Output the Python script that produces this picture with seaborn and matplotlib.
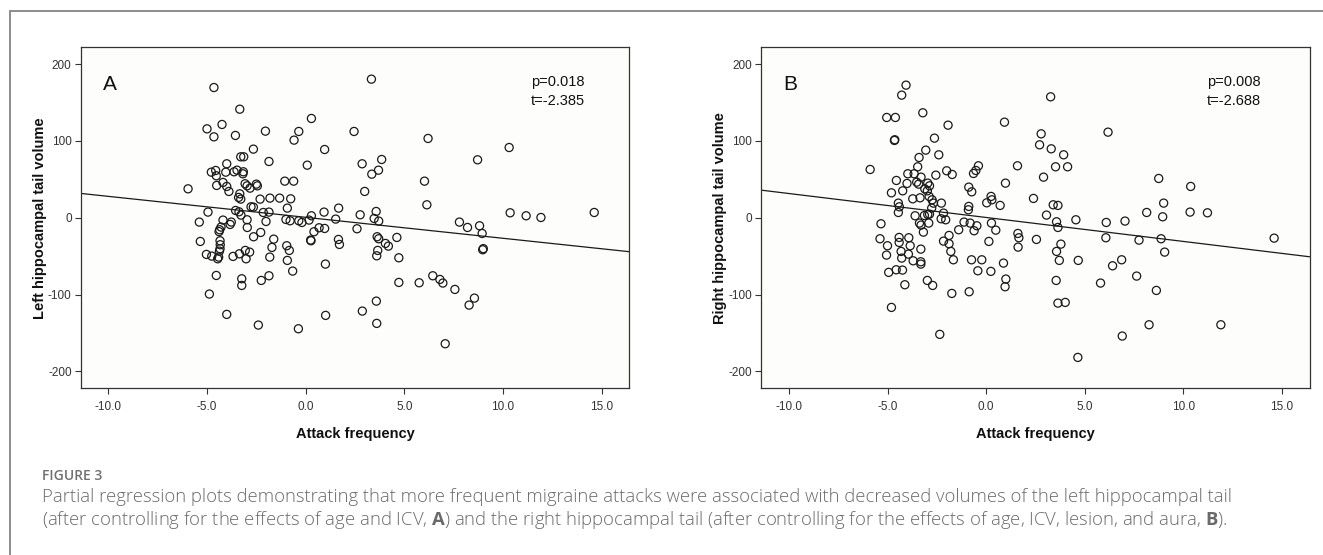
import matplotlib
matplotlib.use("Agg")
import matplotlib.pyplot as plt
import seaborn as sns
import pandas as pd
from matplotlib.lines import Line2D

# ---------------- data ----------------
left_x = [-4.65, -3.34, 0.29, -5.0, -4.24, -4.65, -3.56, -2.04, -0.35, -0.59, 0.96, -2.65, -3.29, -3.14,
          -1.86, 0.08, -4.0, -4.78, -4.56, -4.53, -4.05, -3.63, -3.48, -3.16, -3.18, -5.96, -4.51, -4.19,
          -4.0, -3.89, -3.07, -2.97, -2.82, -2.5, -2.45, -3.34, -3.4, -3.29, -2.31, -1.81, -1.32, -1.06,
          -0.61, -0.76, -0.93, -2.77, -2.65, -3.55, -3.38, -3.28, -2.15, -1.86, -4.95, 0.93, 0.29, -5.39,
          -4.19, -3.77, -3.83, -2.97, -2.01, -1.0, -0.79, -0.35, -0.19, 0.17, 0.42, 0.68, 0.96, 0.27, 0.25,
          -4.29, -4.36, -4.39, -2.96, -2.28, -2.64, -5.34, -4.34, -4.33, -4.34, -4.37, -1.62, -1.71, -1.82,
          -0.96, -0.83, -0.93, -0.66, 1.0, -5.03, -4.76, -4.46, -4.41, -3.68, -3.36, -3.06, -3.02, -2.84,
          -4.53, -3.24, -3.24, -2.25, -1.86, -4.88, -4.0, -2.4, -0.37, 1.01,
          3.33, 2.45, 6.2, 10.31, 8.71, 2.86, 3.85, 3.69, 3.35, 6.02, 2.99, 6.14, 1.67, 2.76, 3.57, 3.47,
          3.7, 1.52, 10.36, 11.17, 11.92, 14.62, 7.79, 8.2, 8.81, 8.94, 8.97, 9.0, 2.6, 1.66, 1.71, 3.62,
          3.7, 4.04, 4.19, 4.62, 3.65, 3.6, 4.72, 4.72, 5.75, 6.44, 6.8, 6.95, 7.56, 8.55, 8.28, 3.58,
          2.87, 3.6, 7.07]
left_y = [169.6, 141.4, 129.3, 115.8, 121.5, 105.4, 107.2, 112.8, 112.4, 101.1, 88.9, 89.4, 79.4, 79.4,
          73.3, 68.5, 70.3, 59.4, 61.6, 54.7, 59.4, 59.9, 62.0, 59.9, 57.3, 37.7, 42.1, 46.0,
          40.8, 34.3, 44.3, 41.6, 38.6, 43.8, 41.6, 31.2, 26.5, 24.3, 24.3, 25.6, 25.6, 47.7,
          47.7, 24.7, 12.6, 14.3, 13.9, 9.5, 7.8, 3.5, 6.9, 7.4, 7.4, 7.4, 2.6, -5.6,
          -3.0, -5.6, -8.7, -2.6, -4.8, -2.2, -3.9, -3.9, -6.1, -3.0, -18.2, -13.0, -13.9, -29.9, -29.0,
          -12.1, -15.6, -18.0, -12.6, -19.1, -24.7, -30.8, -29.9, -35.1, -40.3, -43.4, -27.8, -38.6, -51.2,
          -36.4, -42.5, -55.5, -69.4, -60.3, -47.7, -49.9, -53.4, -51.2, -50.3, -46.9, -42.5, -53.4, -44.7,
          -75.1, -79.4, -88.1, -81.6, -75.5, -99.3, -125.8, -139.7, -144.5, -127.1,
          180.5, 112.4, 103.3, 91.5, 75.5, 70.3, 75.9, 62.0, 56.8, 47.7, 34.3, 16.9, 12.6, 3.9, 8.2, -0.9,
          -4.3, -1.7, 6.5, 2.6, 0.4, 6.9, -5.6, -12.6, -10.4, -20.4, -41.6, -40.2, -14.3, -28.2, -34.7, -24.7,
          -27.3, -33.4, -36.9, -25.6, -42.5, -49.5, -52.1, -84.2, -84.6, -75.5, -80.3, -85.0, -93.3, -104.6, -113.7, -108.5,
          -121.5, -137.5, -164.0]

right_x = [-4.06, -4.28, -5.04, -4.6, -3.21, -1.93, 0.93, -4.65, -4.63, -2.62, -3.06, -2.4, -3.4, -5.88,
           -3.47, -3.97, -3.65, -3.3, -2.55, -2.0, -1.72, -0.39, -0.52, -0.64, -4.55, -4.01, -3.52, -3.42,
           -2.96, -2.87, -3.11, -2.98, -4.23, -4.8, -3.72, -3.35, -2.89, -2.74, -0.88, -0.73, 0.98, 0.25,
           0.29, 0.03, 0.71, -0.88, -0.9, -4.45, -4.4, -4.45, -3.6, -3.13, -2.96, -2.87, -2.76, -2.67,
           -2.27, -2.16, -2.28, -2.05, -3.38, -3.3, -3.18, -2.91, -5.33, -1.12, -0.81, -0.47, -0.61, -1.39,
           0.27, 0.49, 0.14, 0.88, 1.0, 0.96, -5.38, -5.0, -5.05, -4.41, -4.41, -3.92, -3.85, -4.31, -3.94,
           -4.28, -3.31, -3.7, -3.31, -3.31, -4.94, -4.56, -4.24, -4.12, -2.98, -2.71, -2.16, -1.88, -1.88,
           -1.79, -1.66, -0.74, -0.22, -0.42, 0.24, -1.74, -0.86, -4.8, -2.35,
           3.27, 6.18, 2.79, 2.71, 3.3, 3.93, 3.52, 4.13, 1.59, 2.91, 8.75, 10.37, 2.4, 3.4, 3.64, 3.06,
           4.55, 3.57, 3.64, 6.09, 7.04, 8.14, 9.0, 8.95, 10.34, 11.22, 14.6, 1.61, 1.66, 1.62, 2.55, 6.07,
           7.75, 8.87, 9.05, 3.79, 3.57, 3.71, 4.67, 6.41, 6.87, 7.63, 5.8, 8.63, 3.55, 3.64, 4.01, 8.26,
           11.9, 6.9, 4.65]
right_y = [172.7, 159.7, 130.6, 130.6, 136.7, 120.6, 124.5, 100.7, 101.6, 103.7, 88.1, 82.0, 78.5, 62.9,
           66.4, 57.3, 57.3, 52.9, 55.5, 61.2, 56.4, 67.7, 61.6, 57.7, 48.6, 44.7, 46.4, 43.8,
           45.1, 41.6, 37.7, 35.1, 35.1, 32.5, 24.7, 26.0, 27.8, 23.4, 39.9, 33.8, 45.1, 27.8,
           23.4, 19.5, 16.1, 14.8, 10.4, 19.1, 14.3, 6.9, 2.6, 3.0, 4.3, 4.8, 12.6, 19.1,
           19.1, 6.1, -1.3, -2.6, -6.9, -9.5, -18.7, -6.9, -7.8, -5.6, -6.9, -10.4, -16.9, -15.6,
           -6.9, -16.1, -30.8, -59.0, -79.8, -89.8, -27.3, -36.4, -48.6, -25.6, -32.1, -26.0, -36.4, -43.8, -47.3,
           -52.5, -40.8, -56.0, -57.3, -60.3, -71.1, -67.7, -68.1, -87.2, -81.6, -88.1, -30.4, -23.0, -33.8,
           -43.8, -54.7, -54.7, -54.7, -69.0, -69.8, -98.5, -96.3, -116.7, -151.8,
           157.5, 111.5, 109.3, 95.0, 89.8, 82.0, 66.4, 66.4, 67.7, 52.9, 51.2, 40.8, 25.2, 16.9, 16.1, 3.5,
           -2.6, -5.2, -12.6, -6.1, -4.3, 6.9, 19.1, 1.3, 7.4, 6.5, -26.5, -20.4, -26.0, -38.2, -28.2, -26.0,
           -29.1, -27.3, -44.7, -34.3, -43.8, -55.5, -55.5, -62.5, -54.7, -75.9, -85.0, -94.6, -81.6, -111.1, -110.2, -139.3,
           -139.3, -154.0, -181.8]

# fitted partial-regression lines (intercept, slope)
left_fit = [0.6, -2.73]
right_fit = [0.4, -3.12]

panel_letters = ["A", "B"]
y_labels = ["Left hippocampal tail volume", "Right hippocampal tail volume"]
x_label = "Attack frequency"
stats_text = ["p=0.018\nt=-2.385", "p=0.008\nt=-2.688"]

x_ticks = [-10, -5, 0, 5, 10, 15]
x_tick_labels = ["-10.0", "-5.0", "0.0", "5.0", "10.0", "15.0"]
y_ticks = [-200, -100, 0, 100, 200]
y_tick_labels = ["-200", "-100", "0", "100", "200"]

caption_title = "FIGURE 3"
caption_line1 = ("Partial regression plots demonstrating that more frequent migraine attacks were "
                 "associated with decreased volumes of the left hippocampal tail")
caption_line2 = ("(after controlling for the effects of age and ICV, $\\mathbf{A}$) and the right hippocampal "
                 "tail (after controlling for the effects of age, ICV, lesion, and aura, $\\mathbf{B}$).")

# ---------------- style ----------------
sns.set_theme(style="white")
plt.rcParams["font.family"] = ["Liberation Sans", "DejaVu Sans"]
plt.rcParams["mathtext.fontset"] = "custom"
plt.rcParams["mathtext.rm"] = "Open Sans"
plt.rcParams["mathtext.bf"] = "Open Sans:bold"

fig = plt.figure(figsize=(13.23, 5.55), dpi=100)
fig.patch.set_facecolor("white")

ax_positions = [[0.061, 0.3004, 0.4147, 0.6144], [0.5754, 0.3004, 0.4145, 0.6144]]
datasets = [(left_x, left_y, left_fit), (right_x, right_y, right_fit)]
stats_x = [0.821, 0.813]

for i, (xs, ys, fit) in enumerate(datasets):
    ax = fig.add_axes(ax_positions[i])
    ax.set_facecolor("#fdfdfb")
    df = pd.DataFrame({"x": xs, "y": ys})
    sns.scatterplot(data=df, x="x", y="y", ax=ax, marker="o", s=34,
                    facecolor="none", edgecolor="#1a1a1a", linewidth=0.9, zorder=3)
    ax.axline((0, fit[0]), slope=fit[1], color="#1a1a1a", lw=0.9, zorder=2)
    ax.set_xlim(-11.4, 16.4)
    ax.set_ylim(-222, 222)
    ax.set_xticks(x_ticks)
    ax.set_xticklabels(x_tick_labels)
    ax.set_yticks(y_ticks)
    ax.set_yticklabels(y_tick_labels)
    ax.tick_params(axis="both", which="major", direction="out", length=4, width=0.8,
                   color="#333333", labelsize=8.5, labelcolor="#333333", pad=2.5,
                   bottom=True, left=True, top=False, right=False)
    ax.tick_params(axis="x", pad=5)
    for sp in ax.spines.values():
        sp.set_visible(True)
        sp.set_color("#333333")
        sp.set_linewidth(0.9)
    ax.set_xlabel(x_label, fontsize=10.5, fontweight="bold", color="#111111", labelpad=10)
    ax.set_ylabel(y_labels[i], fontsize=10.5, fontweight="bold", color="#111111", labelpad=1)
    ax.text(0.04, 0.892, panel_letters[i], transform=ax.transAxes, fontsize=15,
            ha="left", va="center", color="#111111")
    ax.text(stats_x[i], 0.918, stats_text[i], transform=ax.transAxes, fontsize=10.5,
            ha="left", va="top", color="#111111", linespacing=1.4)
    ax.grid(False)

# caption
cap_font = ["Open Sans", "DejaVu Sans"]
cap_x = 42 / 1323
fig.text(cap_x, 1 - 476 / 555, caption_title, fontsize=10, color="#707070", fontweight="semibold",
         family=cap_font, ha="left", va="center")
fig.text(cap_x, 1 - 497 / 555, caption_line1, fontsize=13.3, color="#6a6a6a", fontweight="light",
         family=cap_font, ha="left", va="center")
fig.text(cap_x, 1 - 520 / 555, caption_line2, fontsize=13.3, color="#6a6a6a", fontweight="light",
         family=cap_font, ha="left", va="center")

# outer frame (left and top edges)
fy = 1 - 11 / 555
fx = 10 / 1323
fig.add_artist(Line2D([fx, fx], [0, fy], transform=fig.transFigure, color="#8c8c8c", lw=1.4))
fig.add_artist(Line2D([fx, 1], [fy, fy], transform=fig.transFigure, color="#8c8c8c", lw=1.4))

fig.savefig("out.png", dpi=100, facecolor="white")
